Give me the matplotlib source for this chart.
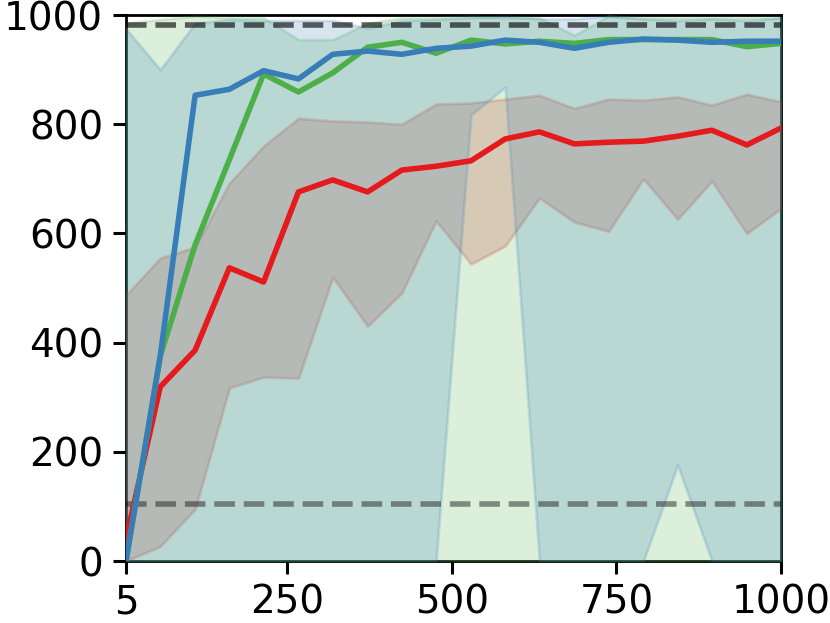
import matplotlib
matplotlib.use("Agg")
import matplotlib.pyplot as plt

tick_font_size = 14

# episodes on the x axis
steps = [5, 57, 110, 162, 214, 267, 319, 372, 424, 476,
         529, 581, 633, 686, 738, 791, 843, 895, 948, 1000]

red_mean = [40, 319, 386, 537, 511, 676, 698, 676, 716, 723,
            733, 773, 786, 764, 767, 769, 778, 789, 762, 793]
red_low = [0, 27, 95, 317, 337, 335, 520, 430, 491, 623,
           544, 577, 665, 621, 604, 700, 626, 696, 600, 646]
red_high = [487, 555, 575, 692, 760, 811, 806, 804, 800, 837,
            839, 846, 853, 829, 846, 844, 850, 835, 855, 841]

green_mean = [0, 375, 579, 735, 892, 859, 894, 941, 950, 930,
              954, 947, 952, 948, 955, 955, 955, 955, 942, 948]
green_low = [0, 0, 0, 0, 0, 0, 0, 0, 0, 0,
             0, 0, 0, 0, 0, 0, 0, 0, 0, 0]
green_high = [985, 992, 998, 995, 995, 955, 955, 985, 995, 995,
              998, 995, 995, 963, 998, 995, 995, 995, 995, 995]

blue_mean = [0, 375, 853, 864, 898, 883, 928, 934, 928, 939,
             943, 954, 950, 939, 950, 956, 954, 950, 952, 952]
blue_low = [0, 0, 0, 0, 0, 0, 0, 0, 0, 0,
            817, 868, 0, 0, 0, 0, 176, 0, 0, 0]
blue_high = [975, 900, 985, 992, 990, 990, 990, 976, 990, 992,
             995, 998, 993, 993, 998, 993, 990, 993, 990, 995]

upper_ref = 982
lower_ref = 105

xticks = [5, 250, 500, 750, 1000]
yticks = [0, 200, 400, 600, 800, 1000]

red = '#e41a1c'
green = '#4daf4a'
blue = '#377eb8'

figure = plt.figure(figsize=(4.15, 3.115), dpi=200)
axes = figure.add_axes([0.1518, 0.0995, 0.7892, 0.8764])

# bands first: red, then green, then blue
axes.fill_between(steps, red_low, red_high, color=red, alpha=0.2, zorder=3)
axes.fill_between(steps, green_low, green_high, color=green, alpha=0.2, zorder=3)
axes.fill_between(steps, blue_low, blue_high, color=blue, alpha=0.2, zorder=3)

axes.axhline(upper_ref, color='black', alpha=0.62, linestyle='--', linewidth=2, zorder=3)
axes.axhline(lower_ref, color='black', alpha=0.42, linestyle='--', linewidth=2, zorder=3)

axes.plot(steps, red_mean, color=red, linewidth=2, zorder=4)
axes.plot(steps, green_mean, color=green, linewidth=2, zorder=4)
axes.plot(steps, blue_mean, color=blue, linewidth=2, zorder=4)

axes.set_xlim(5, 1000)
axes.set_ylim(0, 1000)
axes.set_xticks(xticks)
axes.set_yticks(yticks)
axes.tick_params(labelsize=tick_font_size, length=4.7, width=1.1)
for spine in axes.spines.values():
    spine.set_linewidth(1.0)

figure.savefig('out.png', dpi=200)
